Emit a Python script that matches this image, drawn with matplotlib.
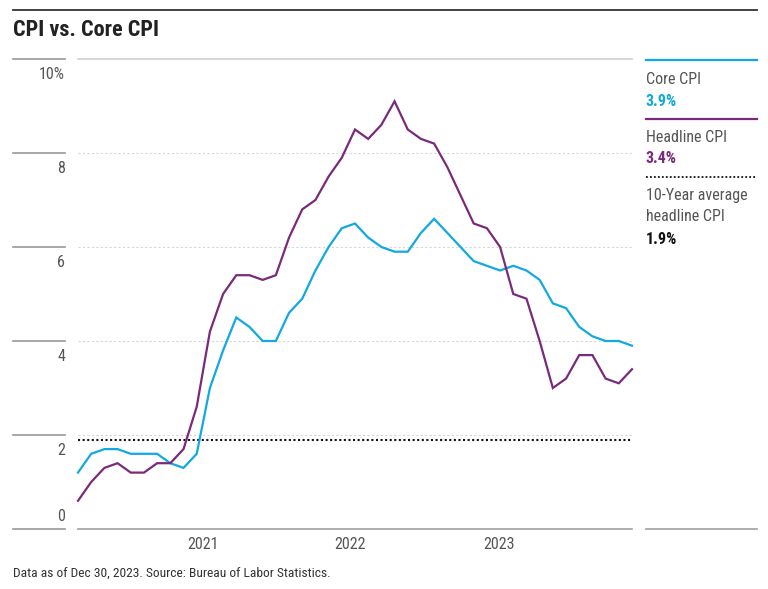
import matplotlib
matplotlib.use("Agg")
import matplotlib.pyplot as plt
import matplotlib.transforms as mtransforms
from matplotlib.lines import Line2D

plt.rcParams['font.family'] = ['Roboto Condensed', 'Barlow Condensed', 'DejaVu Sans']

# monthly year-over-year % change, Jun 2020 .. Dec 2023
headline = [0.6, 1.0, 1.3, 1.4, 1.2, 1.2, 1.4,
            1.4, 1.7, 2.6, 4.2, 5.0, 5.4, 5.4, 5.3, 5.4, 6.2, 6.8, 7.0,
            7.5, 7.9, 8.5, 8.3, 8.6, 9.1, 8.5, 8.3, 8.2, 7.7, 7.1, 6.5,
            6.4, 6.0, 5.0, 4.9, 4.0, 3.0, 3.2, 3.7, 3.7, 3.2, 3.1, 3.4]
core = [1.2, 1.6, 1.7, 1.7, 1.6, 1.6, 1.6,
        1.4, 1.3, 1.6, 3.0, 3.8, 4.5, 4.3, 4.0, 4.0, 4.6, 4.9, 5.5,
        6.0, 6.4, 6.5, 6.2, 6.0, 5.9, 5.9, 6.3, 6.6, 6.3, 6.0, 5.7,
        5.6, 5.5, 5.6, 5.5, 5.3, 4.8, 4.7, 4.3, 4.1, 4.0, 4.0, 3.9]
avg_10yr = 1.9

y_ticks = [0, 2, 4, 6, 8, 10]
y_labels = ["0", "2", "4", "6", "8", "10%"]
year_labels = ["2021", "2022", "2023"]
year_pos = [9.47, 20.65, 31.9]   # where the source chart puts the year labels

BLUE = "#12a8e0"
PURPLE = "#7a2a7b"
GREY_TXT = "#555555"

W, H = 768, 589
fig = plt.figure(figsize=(W / 100, H / 100), dpi=100)


def fx(px):
    return px / W


def fy(py):
    return 1 - py / H


ax = fig.add_axes([fx(78), fy(529), fx(632) - fx(78), fy(59) - fy(529)])
x = list(range(len(headline)))
ax.set_xlim(0, len(headline) - 1)
ax.set_ylim(0, 10)
ax.axis('off')

# grid
for v in y_ticks:
    if v == 0:
        ax.axhline(v, color="#a0a0a0", lw=1.2, clip_on=False)
    elif v == 10:
        ax.axhline(v, color="#cfcfcf", lw=1.2, clip_on=False)
    else:
        ax.axhline(v, color="#d6d6d6", lw=0.8, ls=(0, (2, 2)), clip_on=False)

ax.axhline(avg_10yr, color="#111111", lw=1.5, ls=(0, (1, 1.2)), clip_on=False)
ax.plot(x, core, color=BLUE, lw=1.6, clip_on=False, solid_joinstyle='miter')
ax.plot(x, headline, color=PURPLE, lw=1.6, clip_on=False, solid_joinstyle='miter')

# y axis: short rules with labels under them
blend = mtransforms.blended_transform_factory(ax.transAxes, ax.transData)
x0 = (13 - 78) / (632 - 78)
x1 = (65 - 78) / (632 - 78)
for v, lab in zip(y_ticks, y_labels):
    ax.plot([x0, x1], [v, v], transform=blend, color="#9a9a9a", lw=1.2, clip_on=False)
    dy = 9 if v == 0 else -11
    ax.annotate(lab, xy=(x1, v), xycoords=blend, xytext=(0, dy), textcoords='offset points',
                ha='right', va='center', fontsize=11.5, color=GREY_TXT)

# x labels
for p, lab in zip(year_pos, year_labels):
    ax.annotate(lab, xy=(p, 0), xycoords='data', xytext=(0, -11), textcoords='offset points',
                ha='center', va='center', fontsize=11.5, color=GREY_TXT, annotation_clip=False)

# top rule and title
fig.add_artist(Line2D([fx(13), fx(757)], [fy(10), fy(10)], color="#333333", lw=1.3))
fig.text(fx(13), fy(30), "CPI vs. Core CPI", fontsize=16, fontweight='bold',
         color="#222222", ha='left', va='center')

# legend column
fig.add_artist(Line2D([fx(646), fx(757)], [fy(529), fy(529)], color="#a0a0a0", lw=1.2))
fig.add_artist(Line2D([fx(646), fx(757)], [fy(60), fy(60)], color=BLUE, lw=1.6))
fig.text(fx(646), fy(79.5), "Core CPI", fontsize=11.5, color=GREY_TXT, va='center')
fig.text(fx(646), fy(101.5), f"{core[-1]:.1f}%", fontsize=11.5, fontweight='bold', color=BLUE, va='center')
fig.add_artist(Line2D([fx(646), fx(757)], [fy(118.5), fy(118.5)], color=PURPLE, lw=1.6))
fig.text(fx(646), fy(137.5), "Headline CPI", fontsize=11.5, color=GREY_TXT, va='center')
fig.text(fx(646), fy(158.5), f"{headline[-1]:.1f}%", fontsize=11.5, fontweight='bold', color=PURPLE, va='center')
fig.add_artist(Line2D([fx(646), fx(757)], [fy(176.5), fy(176.5)], color="#111111", lw=1.3,
                      ls=(0, (1, 1.2))))
fig.text(fx(646), fy(195.5), "10-Year average", fontsize=11.5, color=GREY_TXT, va='center')
fig.text(fx(646), fy(216.5), "headline CPI", fontsize=11.5, color=GREY_TXT, va='center')
fig.text(fx(646), fy(239.5), f"{avg_10yr:.1f}%", fontsize=11.5, fontweight='bold', color="#111111", va='center')

# footnote
fig.text(fx(13), fy(573.5), "Data as of Dec 30, 2023. Source: Bureau of Labor Statistics.",
         fontsize=9.7, color="#333333", va='center')

fig.savefig("out.png", dpi=100, facecolor='white')
